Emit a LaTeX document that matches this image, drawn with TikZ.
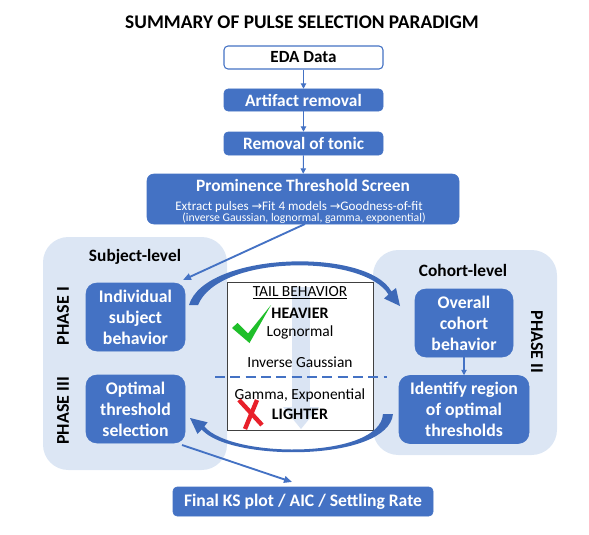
\documentclass[tikz,border=0pt]{standalone}
\usepackage{fontspec}
\setmainfont{Carlito}
\newfontfamily\dejavu{DejaVu Sans}
\usetikzlibrary{arrows.meta}
\definecolor{pblue}{HTML}{4472C4}
\definecolor{arcblue}{HTML}{3D69B8}
\definecolor{lreg}{HTML}{DCE6F4}
\definecolor{fadeblue}{HTML}{DAE4F3}
\definecolor{chk}{HTML}{1FBF2A}
\definecolor{xred}{HTML}{E8202A}
\begin{document}
\begin{tikzpicture}[x=0.75pt,y=-0.75pt,
  sz/.style 2 args={minimum width=#1*0.75pt, minimum height=#2*0.75pt},
  bluebox/.style={draw=pblue, fill=pblue, rounded corners=3pt, text=white, inner sep=0pt, align=center, font=\bfseries\fontsize{13}{15}\selectfont},
  phasebox/.style={draw=pblue, fill=pblue, rounded corners=8pt, text=white, inner sep=0pt, align=center, font=\bfseries\fontsize{13.3}{15.75}\selectfont},
  region/.style={fill=lreg, rounded corners=19pt, inner sep=0pt},
  lbl/.style={font=\bfseries\fontsize{13}{15}\selectfont, inner sep=0pt},
  phase/.style={font=\bfseries\fontsize{13.5}{15}\selectfont, inner sep=0pt},
  tailtxt/.style={font=\fontsize{11.6}{13}\selectfont, inner sep=0pt},
  smallarrow/.style={draw=pblue, line width=0.8pt, -{Triangle[length=4pt,width=4pt]}},
  linkarrow/.style={draw=pblue, line width=1.4pt, -{Triangle[length=6pt,width=5pt]}}
]
\useasboundingbox (0,0) rectangle (589,535);

% title
\node[font=\bfseries\fontsize{14.5}{16}\selectfont, inner sep=0pt] (title) at (302,22) {SUMMARY OF PULSE SELECTION PARADIGM};

% top chain
\node[draw=pblue, fill=white, rounded corners=3pt, line width=0.8pt, inner sep=0pt, sz={159}{23}, font=\bfseries\fontsize{12.8}{14}\selectfont] (eda) at (303.5,57.5) {EDA Data};
\node[bluebox, sz={159}{22}] (art) at (303.5,100) {Artifact removal};
\node[bluebox, sz={159}{23}] (ton) at (303.5,143.5) {Removal of tonic};
\node[bluebox, rounded corners=5pt, sz={312}{50}] (prom) at (303,199) {};
\node[text=white, inner sep=0pt, font=\bfseries\fontsize{13}{15}\selectfont] (promt) at (303,185.5) {Prominence Threshold Screen};
\node[text=white, inner sep=0pt, font=\fontsize{9.8}{12}\selectfont] (proml) at (299,207) {Extract pulses {\dejavu\fontsize{9.5}{11}\selectfont→}Fit 4 models {\dejavu\fontsize{9.5}{11}\selectfont→}Goodness-of-fit};
\node[text=white, inner sep=0pt, font=\fontsize{8.8}{10}\selectfont] (proms) at (304,218) {(inverse Gaussian, lognormal, gamma, exponential)};

\draw[smallarrow] (eda) -- (art);
\draw[smallarrow] (art) -- (ton);
\draw[smallarrow] (ton) -- (prom);

% regions
\fill[region] (43,237) rectangle (227,470);
\fill[region] (373,250) rectangle (557,455);

\node[lbl] (subj) at (135,257) {Subject-level};
\node[lbl] (coh) at (463,270) {Cohort-level};
\node[phase, rotate=90] (p1) at (63,316) {PHASE I};
\node[phase, rotate=90] (p3) at (63,411) {PHASE III};
\node[phase, rotate=-90] (p2) at (537,342) {PHASE II};

% phase boxes
\node[phasebox, sz={99}{68}] (ind) at (135.5,317) {Individual\\subject\\behavior};
\node[phasebox, sz={99}{68}] (opt) at (135.5,409) {Optimal\\threshold\\selection};
\node[phasebox, sz={98}{68}] (ovr) at (464,323) {Overall\\cohort\\behavior};
\node[phasebox, sz={130}{68}] (idr) at (464,409.5) {Identify region\\of optimal\\thresholds};
\draw[smallarrow] (ovr) -- (idr);

% tail behaviour box
\node[draw=black!75, fill=white, line width=0.6pt, inner sep=0pt, sz={146}{148}] (tail) at (300,356) {};
\fill[fadeblue] (292,287) rectangle (310,409);
\fill[fadeblue] (283,407) -- (319,407) -- (301,429) -- cycle;
\draw[pblue, line width=0.9pt, dash pattern=on 7.5pt off 4pt] (215,377) -- (387,377);
\node[tailtxt] (tb) at (300,293) {\underline{TAIL BEHAVIOR}};
\node[tailtxt, font=\bfseries\fontsize{12}{13}\selectfont] (hv) at (300,313) {HEAVIER};
\node[tailtxt] (ln) at (300,332) {Lognormal};
\node[tailtxt] (ig) at (300,362) {Inverse Gaussian};
\node[tailtxt] (ge) at (300,395) {Gamma, Exponential};
\node[tailtxt, font=\bfseries\fontsize{12}{13}\selectfont] (lt) at (300,414) {LIGHTER};

% check mark and cross
\fill[chk] (232,328) -- (237.5,323) -- (248,333.5) -- (271,305) -- (249.5,343) -- cycle;
\draw[xred, line width=3.3pt] (239,400) -- (262,425);
\draw[xred, line width=3.3pt] (257,400) -- (245,429);

% curved arrows
\fill[arcblue] (189,305) .. controls (205,252) and (367,247) .. (391.5,291.5)
  -- (396,288) -- (400,306) -- (384,298.5) -- (388.5,294.5)
  .. controls (364,254) and (219,254) .. (198,305) -- cycle;
\fill[arcblue] (393,414) .. controls (388,462) and (230,462) .. (201.7,429.5)
  -- (197.5,434) -- (190,418) -- (207.6,422.3) -- (204.3,426.5)
  .. controls (232,459) and (380,459) .. (383,414) -- cycle;

% final
\node[bluebox, sz={260}{29}, font=\bfseries\fontsize{13.2}{15}\selectfont] (final) at (303,501.5) {Final KS plot / AIC / Settling Rate};

% links
\coordinate (pstart) at (305,224);
\coordinate (pend) at (183,280);
\draw[linkarrow] (pstart) -- (pend);
\coordinate (ostart) at (182,445);
\coordinate (oend) at (292,482);
\draw[linkarrow] (ostart) -- (oend);
\end{tikzpicture}
\end{document}
